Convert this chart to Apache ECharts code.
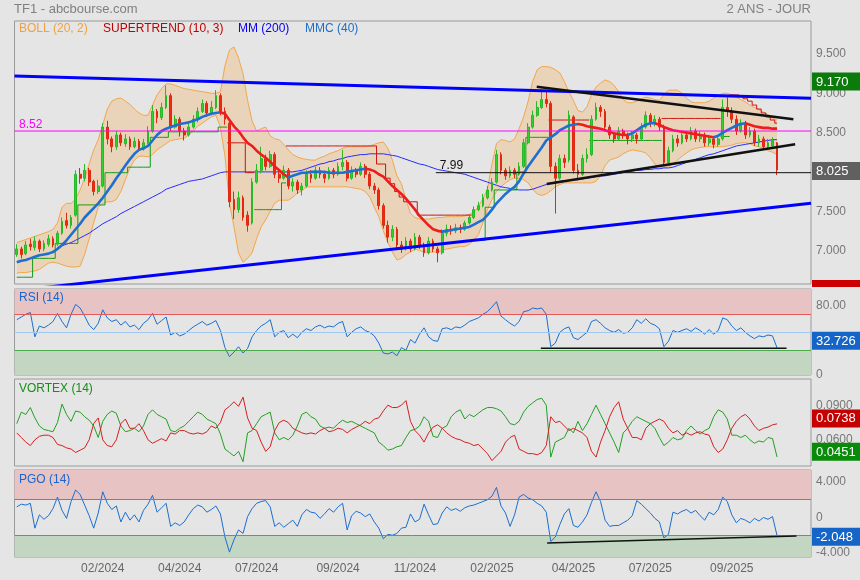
<!DOCTYPE html>
<html><head><meta charset="utf-8">
<script src="https://cdn.jsdelivr.net/npm/echarts@6.0.0/dist/echarts.min.js"></script>
<style>html,body{margin:0;padding:0;background:#e5e5e5;}#chart{width:860px;height:580px;}</style>
</head><body><div id="chart"></div>
<script>
// ---------- DATA ----------
const XLAB = ['02/2024','04/2024','07/2024','09/2024','11/2024','02/2025','04/2025','07/2025','09/2025'];
const XLAB_IDX = [19,36,53,71,88,105,123,140,158];

// [open, close, low, high]
const OHLC = [
[6.95,7.02,6.92,7.08],[7.02,6.95,6.90,7.05],[6.96,7.07,6.94,7.12],[7.08,7.05,7.00,7.15],[7.04,7.12,7.00,7.18],
[7.12,7.02,6.98,7.14],[7.02,7.09,6.99,7.13],[7.08,7.15,7.05,7.20],[7.15,7.07,7.04,7.18],[7.08,7.22,7.06,7.25],
[7.22,7.37,7.20,7.42],[7.38,7.32,7.28,7.48],[7.32,7.42,7.28,7.45],[7.45,7.97,7.43,8.02],[7.97,7.92,7.85,8.05],
[7.92,8.02,7.88,8.10],[8.02,7.87,7.82,8.05],[7.88,7.75,7.70,7.90],[7.75,7.82,7.72,7.90],[7.82,8.57,7.80,8.62],
[8.57,8.42,8.35,8.65],[8.42,8.32,8.25,8.45],[8.32,8.47,8.28,8.52],[8.47,8.37,8.33,8.50],[8.36,8.42,8.32,8.48],
[8.42,8.32,8.28,8.45],[8.32,8.39,8.30,8.44],[8.39,8.29,8.26,8.42],[8.29,8.37,8.27,8.42],[8.37,8.52,8.35,8.58],
[8.52,8.77,8.50,8.85],[8.77,8.69,8.62,8.80],[8.69,8.82,8.66,8.88],[8.82,8.97,8.80,9.10],[8.97,8.57,8.52,9.00],
[8.57,8.67,8.55,8.72],[8.67,8.52,8.45,8.70],[8.52,8.47,8.40,8.56],[8.47,8.57,8.45,8.62],[8.57,8.67,8.55,8.72],
[8.67,8.77,8.63,8.82],[8.77,8.87,8.75,8.92],[8.87,8.75,8.70,8.90],[8.75,8.82,8.72,8.90],[8.82,8.97,8.80,9.04],
[8.97,8.77,8.72,9.00],[8.77,8.67,8.60,8.82],[8.62,7.62,7.55,8.65],[7.65,7.52,7.40,7.75],[7.52,7.67,7.48,7.75],
[7.67,7.42,7.38,7.70],[7.45,7.32,7.24,7.50],[7.35,7.87,7.33,7.92],[7.87,8.02,7.85,8.10],[8.02,8.17,7.98,8.32],
[8.17,8.07,8.02,8.22],[8.07,8.22,8.05,8.27],[8.22,7.97,7.92,8.25],[7.97,7.92,7.86,8.02],[7.92,8.02,7.90,8.08],
[8.02,7.82,7.78,8.05],[7.82,7.87,7.75,7.92],[7.87,7.77,7.72,7.90],[7.77,7.82,7.70,7.86],[7.82,7.97,7.80,8.02],
[7.97,7.92,7.86,8.02],[7.92,8.02,7.90,8.07],[8.02,7.97,7.92,8.06],[7.97,7.92,7.86,8.00],[7.92,8.02,7.90,8.06],
[8.02,7.97,7.92,8.05],[7.97,8.07,7.95,8.12],[8.07,8.12,8.02,8.28],[8.12,7.92,7.88,8.15],[7.92,8.02,7.90,8.07],
[8.02,7.97,7.93,8.05],[7.97,8.07,7.95,8.12],[8.07,7.97,7.92,8.10],[7.97,7.82,7.78,8.00],[7.82,7.77,7.72,7.86],
[7.77,7.57,7.52,7.80],[7.57,7.32,7.28,7.60],[7.32,7.17,7.10,7.38],[7.17,7.27,7.12,7.32],[7.27,7.07,7.02,7.30],
[7.07,7.02,6.97,7.12],[7.02,7.12,7.00,7.17],[7.12,7.02,6.98,7.15],[7.02,7.17,7.00,7.22],[7.17,7.07,7.02,7.20],
[7.07,6.97,6.92,7.10],[6.97,7.12,6.95,7.17],[7.12,7.02,6.98,7.15],[7.02,6.97,6.85,7.05],[6.97,7.22,6.95,7.27],
[7.22,7.27,7.18,7.33],[7.27,7.25,7.20,7.32],[7.25,7.29,7.22,7.34],[7.29,7.27,7.22,7.33],[7.27,7.35,7.25,7.38],
[7.35,7.42,7.33,7.46],[7.42,7.52,7.40,7.56],[7.52,7.57,7.50,7.62],[7.57,7.67,7.55,7.72],[7.67,7.77,7.65,7.82],
[7.77,7.87,7.75,7.92],[7.87,8.22,7.85,8.28],[8.22,8.02,7.97,8.25],[8.02,7.95,7.90,8.05],[7.95,8.02,7.92,8.07],
[8.02,7.97,7.92,8.05],[7.97,8.07,7.95,8.12],[8.07,8.37,8.05,8.42],[8.37,8.57,8.35,8.62],[8.57,8.72,8.55,8.78],
[8.72,8.82,8.70,8.90],[8.82,8.92,8.80,9.05],[8.92,8.87,8.82,9.02],[8.87,8.07,8.00,8.90],[8.07,7.92,7.47,8.12],
[7.92,8.17,7.90,8.22],[8.17,8.12,8.05,8.22],[8.15,8.72,8.12,8.78],[8.70,8.02,7.98,8.72],[8.02,7.97,7.92,8.10],
[7.97,8.17,7.95,8.22],[8.17,8.22,8.12,8.30],[8.22,8.67,8.20,8.72],[8.67,8.82,8.65,8.88],[8.82,8.77,8.70,8.85],
[8.77,8.57,8.52,8.80],[8.57,8.47,8.42,8.60],[8.47,8.42,8.37,8.50],[8.42,8.52,8.40,8.57],[8.52,8.47,8.42,8.55],
[8.47,8.42,8.35,8.50],[8.42,8.47,8.38,8.52],[8.47,8.42,8.36,8.50],[8.42,8.57,8.40,8.62],[8.57,8.72,8.55,8.77],
[8.72,8.62,8.57,8.75],[8.62,8.67,8.58,8.72],[8.67,8.57,8.52,8.70],[8.57,8.12,8.08,8.60],[8.12,8.27,8.10,8.32],
[8.27,8.42,8.25,8.47],[8.42,8.37,8.32,8.47],[8.37,8.47,8.35,8.52],[8.47,8.42,8.38,8.52],[8.42,8.52,8.40,8.57],
[8.52,8.42,8.38,8.55],[8.42,8.47,8.38,8.52],[8.47,8.37,8.32,8.50],[8.37,8.42,8.33,8.47],[8.42,8.35,8.30,8.45],
[8.35,8.42,8.32,8.47],[8.42,8.82,8.40,8.92],[8.82,8.77,8.70,8.95],[8.77,8.67,8.62,8.82],[8.67,8.52,8.47,8.72],
[8.52,8.62,8.50,8.67],[8.62,8.47,8.42,8.65],[8.47,8.52,8.44,8.57],[8.52,8.37,8.33,8.55],[8.37,8.42,8.32,8.47],
[8.42,8.32,8.28,8.45],[8.32,8.37,8.28,8.42],[8.33,8.40,8.30,8.44],[8.37,8.025,7.96,8.38]
];

const BB_UP = [7.10,7.12,7.14,7.16,7.18,7.20,7.22,7.24,7.27,7.35,
 7.55,7.60,7.60,7.65,7.77,7.92,8.10,8.28,8.41,8.60,
 8.80,8.90,8.93,8.94,8.90,8.86,8.80,8.75,8.72,8.72,
 8.85,8.98,9.06,9.12,9.12,9.10,9.08,9.06,9.05,9.04,
 9.03,9.02,9.01,9.00,9.00,9.02,9.35,9.55,9.59,9.45,
 9.25,8.91,8.65,8.52,8.55,8.57,8.46,8.42,8.41,8.35,
 8.28,8.22,8.19,8.17,8.16,8.15,8.15,8.18,8.20,8.23,
 8.25,8.27,8.30,8.32,8.32,8.32,8.32,8.32,8.33,8.35,
 8.37,8.38,8.30,8.15,7.95,7.85,7.65,7.47,7.42,7.40,
 7.40,7.40,7.41,7.42,7.42,7.43,7.43,7.43,7.43,7.44,
 7.46,7.48,7.56,7.66,7.78,8.10,8.36,8.41,8.40,8.38,
 8.42,8.55,8.70,8.90,9.15,9.30,9.34,9.34,9.33,9.30,
 9.26,9.15,9.02,8.91,8.78,8.76,8.83,8.98,9.08,9.13,
 9.17,9.15,9.10,9.02,8.92,8.88,8.88,8.90,8.93,8.95,
 8.94,8.92,8.91,8.98,9.04,9.04,9.04,9.00,8.94,8.89,
 8.88,8.88,8.88,8.90,8.94,8.97,9.00,9.00,8.98,8.95,
 8.92,8.89,8.85,8.82,8.79,8.76,8.73,8.68,8.66];

const BB_LO = [6.71,6.72,6.72,6.73,6.74,6.76,6.80,6.84,6.85,6.84,
 6.82,6.80,6.79,6.79,6.80,6.95,7.15,7.35,7.55,7.60,
 7.62,7.62,7.65,7.75,7.90,8.05,8.15,8.20,8.20,8.19,
 8.22,8.28,8.32,8.36,8.40,8.41,8.42,8.43,8.47,8.52,
 8.58,8.62,8.66,8.70,8.72,8.57,8.20,7.60,7.30,6.97,
 6.85,6.90,6.97,7.15,7.30,7.39,7.50,7.60,7.64,7.64,
 7.64,7.68,7.73,7.76,7.81,7.81,7.81,7.81,7.81,7.81,
 7.81,7.81,7.81,7.81,7.80,7.79,7.78,7.75,7.68,7.55,
 7.43,7.25,7.10,6.98,6.88,6.90,6.95,6.98,7.02,7.00,
 6.98,6.98,6.98,6.98,7.00,7.02,7.03,7.04,7.05,7.05,
 7.08,7.13,7.20,7.35,7.52,7.65,7.75,7.81,7.86,7.90,
 7.92,7.92,7.90,7.86,7.78,7.72,7.70,7.72,7.76,7.81,
 7.84,7.86,7.86,7.86,7.86,7.86,7.86,7.86,7.88,7.95,
 8.08,8.15,8.17,8.19,8.23,8.26,8.28,8.27,8.26,8.24,
 8.18,8.10,8.06,8.06,8.06,8.10,8.15,8.20,8.24,8.28,
 8.30,8.31,8.32,8.32,8.32,8.32,8.32,8.33,8.34,8.36,
 8.37,8.37,8.36,8.33,8.32,8.30,8.27,8.25,8.22];

const MMC40 = [6.85,6.87,6.88,6.90,6.92,6.94,6.95,6.96,6.98,7.02,
 7.07,7.13,7.20,7.27,7.34,7.42,7.48,7.54,7.60,7.67,
 7.75,7.83,7.92,8.00,8.08,8.16,8.23,8.28,8.30,8.33,
 8.40,8.47,8.52,8.55,8.57,8.59,8.61,8.62,8.63,8.65,
 8.67,8.70,8.72,8.74,8.75,8.76,8.74,8.66,8.58,8.52,
 8.44,8.37,8.33,8.27,8.22,8.18,8.13,8.07,8.02,7.97,
 7.93,7.95,7.97,7.99,7.99,8.00,8.00,8.00,8.00,7.99,
 7.99,7.99,7.99,8.00,8.01,8.02,8.03,8.04,8.03,8.01,
 7.97,7.94,7.88,7.82,7.77,7.72,7.66,7.59,7.52,7.44,
 7.38,7.32,7.27,7.25,7.24,7.25,7.26,7.27,7.28,7.29,
 7.30,7.33,7.36,7.39,7.45,7.52,7.60,7.66,7.72,7.77,
 7.81,7.88,7.98,8.07,8.15,8.23,8.31,8.40,8.44,8.48,
 8.53,8.56,8.59,8.60,8.61,8.60,8.58,8.57,8.56,8.55,
 8.53,8.51,8.49,8.48,8.47,8.47,8.49,8.53,8.57,8.60,
 8.62,8.62,8.60,8.57,8.55,8.53,8.52,8.51,8.50,8.49,
 8.48,8.47,8.46,8.45,8.44,8.46,8.50,8.53,8.56,8.59,
 8.61,8.62,8.60,8.58,8.57,8.56,8.56,8.55,8.55];
// indices where MMC(40) changes direction (starts rising)
const MMC_TURNS = [45,60,77,94,124,135,141,154,161];

const MM200 = [null,null,null,null,null,null,null,null,null,
 7.04,7.06,7.08,7.10,7.13,7.16,7.19,7.22,7.26,7.30,
 7.34,7.37,7.40,7.43,7.47,7.50,7.53,7.56,7.59,7.62,
 7.65,7.68,7.71,7.74,7.78,7.80,7.82,7.84,7.86,7.88,
 7.89,7.90,7.91,7.93,7.95,7.97,7.99,8.00,8.00,8.00,
 8.00,8.00,8.00,8.00,8.00,8.00,8.00,8.00,8.00,8.00,
 8.00,8.00,8.00,8.01,8.02,8.04,8.06,8.08,8.10,8.11,
 8.13,8.14,8.16,8.17,8.19,8.20,8.21,8.22,8.22,8.23,
 8.23,8.23,8.23,8.22,8.21,8.20,8.18,8.16,8.14,8.12,
 8.10,8.09,8.07,8.05,8.03,8.02,8.01,8.00,7.99,7.98,
 7.97,7.95,7.93,7.91,7.89,7.87,7.85,7.83,7.81,7.80,
 7.79,7.78,7.77,7.77,7.77,7.78,7.80,7.82,7.84,7.86,
 7.87,7.88,7.89,7.89,7.90,7.90,7.91,7.92,7.93,7.94,
 7.95,7.95,7.96,7.97,7.98,7.99,8.00,8.01,8.02,8.02,
 8.03,8.03,8.04,8.04,8.05,8.05,8.06,8.08,8.10,8.12,
 8.14,8.16,8.18,8.20,8.22,8.23,8.25,8.27,8.29,8.31,
 8.33,8.34,8.35,8.36,8.37,8.38,8.39,8.40,8.41,8.41];

// Supertrend step segments [fromIndex, toIndex, level]
const ST_GREEN_SEGS = [[0,3,6.66],[4,8,6.90],[9,13,7.09],[14,19,7.58],[20,24,7.99],[25,29,8.06],[30,33,8.44],[34,44,8.51],[45,46,8.57],
 [53,58,7.52],[59,59,7.86],[101,103,7.13],[104,105,7.55],[106,110,7.77],[111,112,8.00],[113,117,8.44],[127,142,8.40],[156,157,8.45]];
const ST_RED_SEGS = [[47,50,8.37],[51,52,7.99],[60,79,8.33],[80,81,8.10],[82,82,7.92],[83,83,7.85],[84,84,7.75],[85,85,7.68],[86,88,7.62],[89,100,7.45],
 [118,126,8.66],[143,155,8.68],[158,159,8.98],[160,160,8.96],[161,161,8.93],[162,162,8.90],[163,163,8.85],[164,164,8.80],[165,165,8.75],[166,166,8.70],[167,167,8.66],[168,168,8.62]];

const RSI = [64,67,70,72,45,57,55,58,62,71,
 62,55,70,81,77,68,58,53,60,75,
 66,62,64,58,62,56,58,53,60,64,
 71,59,63,67,47,50,46,48,52,56,
 59,62,58,60,63,52,33,23,28,34,
 27,32,45,52,57,60,64,45,50,52,
 44,48,44,50,54,52,56,58,55,57,
 56,60,62,45,50,54,56,52,50,46,
 38,27,26,28,24,33,30,42,38,48,
 55,45,41,40,54,55,53,56,55,58,
 62,64,66,70,73,78,84,68,64,60,
 57,62,73,74,77,76,77,70,34,38,
 50,54,56,44,42,46,50,62,64,60,
 55,52,50,53,49,50,55,64,60,65,
 60,58,54,34,40,52,50,52,54,51,
 55,52,48,53,48,52,66,64,57,52,
 55,50,46,43,46,45,47,46,32.726];

const VI_PLUS = [0.074,0.084,0.082,0.088,0.079,0.072,0.069,0.068,0.067,0.075,
 0.091,0.082,0.076,0.085,0.084,0.080,0.077,0.072,0.062,0.076,
 0.082,0.085,0.083,0.072,0.067,0.068,0.070,0.067,0.072,0.082,
 0.086,0.082,0.080,0.078,0.068,0.067,0.070,0.072,0.076,0.080,
 0.084,0.082,0.078,0.076,0.074,0.065,0.052,0.049,0.046,0.050,
 0.041,0.066,0.068,0.074,0.080,0.082,0.084,0.066,0.060,0.062,
 0.060,0.064,0.072,0.082,0.084,0.080,0.078,0.072,0.070,0.071,
 0.070,0.074,0.077,0.075,0.076,0.074,0.072,0.070,0.068,0.066,
 0.058,0.055,0.051,0.052,0.054,0.055,0.062,0.068,0.069,0.072,
 0.080,0.076,0.063,0.062,0.070,0.072,0.080,0.084,0.086,0.078,
 0.082,0.080,0.083,0.086,0.088,0.088,0.087,0.085,0.080,0.074,
 0.073,0.076,0.084,0.089,0.092,0.095,0.096,0.090,0.045,0.058,
 0.060,0.062,0.070,0.066,0.076,0.068,0.074,0.082,0.090,0.082,
 0.074,0.066,0.058,0.049,0.066,0.070,0.076,0.080,0.078,0.076,
 0.074,0.070,0.062,0.055,0.058,0.062,0.060,0.061,0.068,0.072,
 0.068,0.065,0.068,0.070,0.080,0.086,0.084,0.078,0.064,0.064,
 0.062,0.064,0.060,0.057,0.059,0.058,0.062,0.061,0.0451];

const VI_MINUS = [0.066,0.062,0.058,0.055,0.060,0.063,0.064,0.064,0.062,0.056,
 0.055,0.053,0.052,0.049,0.051,0.053,0.060,0.074,0.079,0.060,
 0.055,0.054,0.060,0.074,0.078,0.070,0.070,0.074,0.068,0.060,
 0.057,0.059,0.061,0.059,0.066,0.065,0.068,0.068,0.066,0.065,
 0.066,0.065,0.067,0.072,0.070,0.075,0.086,0.089,0.093,0.089,
 0.097,0.079,0.070,0.068,0.058,0.050,0.054,0.068,0.075,0.077,
 0.075,0.070,0.068,0.066,0.065,0.066,0.065,0.068,0.070,0.067,
 0.068,0.070,0.069,0.066,0.069,0.071,0.073,0.076,0.074,0.078,
 0.079,0.085,0.090,0.088,0.088,0.090,0.094,0.076,0.068,0.064,
 0.058,0.066,0.071,0.073,0.070,0.066,0.063,0.061,0.060,0.058,
 0.057,0.055,0.056,0.052,0.048,0.042,0.046,0.050,0.058,0.062,
 0.064,0.052,0.050,0.048,0.048,0.047,0.049,0.055,0.080,0.075,
 0.076,0.072,0.068,0.070,0.068,0.066,0.062,0.050,0.045,0.058,
 0.068,0.080,0.088,0.093,0.078,0.070,0.062,0.062,0.060,0.070,
 0.074,0.076,0.078,0.076,0.070,0.066,0.068,0.064,0.066,0.064,
 0.066,0.067,0.065,0.064,0.054,0.049,0.052,0.060,0.070,0.076,
 0.080,0.082,0.078,0.072,0.068,0.070,0.071,0.073,0.0738];

const PGO = [1.2,1.5,1.4,1.6,-1.2,0.3,-0.2,0.2,1.0,2.3,
 0.8,-0.1,1.8,3.1,2.6,1.4,0.2,-1.2,0.5,2.9,
 1.6,0.9,1.3,-0.5,0.6,-0.3,0.3,-0.5,0.8,1.5,
 2.5,0.6,1.1,1.6,-1.0,-0.6,-0.9,-0.5,0.3,1.0,
 1.4,1.2,0.6,0.9,1.3,0.4,-2.2,-3.9,-2.5,-1.4,
 -1.8,0.1,1.0,1.6,1.8,1.9,1.2,-1.0,-0.6,-1.1,
 -0.7,-0.3,-1.0,0.3,0.9,0.6,0.5,-0.1,0.4,1.0,
 0.6,1.2,1.6,-1.4,0.2,0.7,0.5,0.1,0.4,-0.5,
 -1.2,-2.4,-1.9,-2.0,-1.8,-1.2,-1.1,0.4,-0.5,-0.2,
 1.5,0.3,-0.8,-0.7,0.5,1.2,0.8,1.0,0.7,1.1,
 1.3,1.4,1.6,1.8,2.0,2.4,3.4,1.3,0.5,-1.0,
 0.3,2.3,2.6,2.2,2.0,1.6,1.3,0.6,-2.7,-2.2,
 -0.8,0.4,1.0,-0.9,-1.1,-0.5,0.3,1.7,2.9,1.8,
 -0.3,-1.0,-0.9,-0.9,-0.6,-0.3,0.2,1.9,1.5,1.0,
 0.5,-0.1,-0.5,-2.3,-1.9,0.6,0.4,0.7,0.9,0.5,
 0.8,0.2,-0.3,0.6,0.3,0.9,2.3,1.8,0.3,-0.6,
 -0.1,-0.3,-0.6,-0.1,-0.4,0.0,-0.2,0.1,-2.048];

// drawn annotation lines: [barIndex, value]
const TL_BLUE_TOP = [[-0.5, 9.22], [175.5, 8.936]];
const TL_BLUE_BOT = [[-0.5, 6.4885], [175.5, 7.60]];
const TL_BLACK_DOWN = [[114.9, 9.084], [171.6, 8.669]];
const TL_BLACK_UP = [[117.1, 7.846], [172.0, 8.351]];
const LEVEL_799 = [[92.6, 7.99], [175.5, 7.99]];
const LEVEL_852 = [[-0.5, 8.52], [175.5, 8.52]];
const RSI_TL = [[115.8, 32.2], [170.1, 32.2]];
const PGO_TL = [[117.2, -2.87], [172.3, -2.08]];

// right-side value tags
const TAG_MAIN_TOP = 9.170, TAG_MAIN_LAST = 8.025, TAG_RSI = 32.726, TAG_VIM = 0.0738, TAG_VIP = 0.0451, TAG_PGO = -2.048;

// ---------- CHART ----------
const FONT = '"Liberation Sans", Arial, sans-serif';
const M = 176;
const N = OHLC.length;
const cats = [];
for (let i = 0; i < M; i++) { const k = XLAB_IDX.indexOf(i); cats.push(k >= 0 ? XLAB[k] : ''); }
function expandSegs(list) { const a = []; for (let i = 0; i < N; i++) a.push(null); list.forEach(s => { for (let i = s[0]; i <= s[1]; i++) a[i] = s[2]; }); return a; }
const bbDiff = BB_UP.map((u, i) => +(u - BB_LO[i]).toFixed(4));

const BLUE_T = '#1f6fd0', RED_T = '#ee1c1c';
const mmcPieces = [];
let prev = null, up = true;
MMC_TURNS.concat([null]).forEach(t => {
  const p = {color: up ? BLUE_T : RED_T};
  if (prev !== null) p.gt = prev;
  if (t !== null) p.lte = t;
  mmcPieces.push(p); prev = t; up = !up;
});

const grids = [
  {left: 14.5, width: 796.5, top: 21, height: 263},
  {left: 14.5, width: 796.5, top: 289, height: 86},
  {left: 14.5, width: 796.5, top: 379, height: 87},
  {left: 14.5, width: 796.5, top: 470, height: 87}
].map(g => Object.assign(g, {show: true, borderColor: '#9a9a9a', borderWidth: 1, backgroundColor: 'transparent'}));

const xAxes = [0,1,2,3].map(g => ({
  type: 'category', gridIndex: g, data: cats, boundaryGap: true,
  axisLine: {show: false}, axisTick: {show: false}, splitLine: {show: false},
  axisLabel: {show: g === 3, interval: (i, v) => v !== '', color: '#666', fontSize: 12, fontFamily: FONT, margin: 6}
})).concat([0,1,2,3].map(g => ({type: 'value', gridIndex: g, min: -0.5, max: M - 0.5, show: false})));

function yAx(g, min, max, vals, fmt) {
  return {type: 'value', gridIndex: g, position: 'right', min: min, max: max,
    splitLine: {show: false}, axisLine: {show: false}, axisTick: {show: false},
    axisLabel: {customValues: vals, formatter: fmt, color: '#777', fontSize: 12, fontFamily: FONT, margin: 5, padding: [0,0,5,0]}};
}
const yAxes = [
  yAx(0, 6.5738, 9.9198, [7, 7.5, 8, 8.5, 9, 9.5], v => v.toFixed(3)),
  yAx(1, 2.6, 98.1, [80], v => v.toFixed(2)),
  yAx(2, 0.03728, 0.11273, [0.06, 0.09], v => v.toFixed(4)),
  yAx(3, -4.451, 5.352, [-4, 0, 4], v => Math.abs(v) < 1e-9 ? '0' : v.toFixed(3))
];

const lineBase = {type: 'line', symbol: 'none', animation: false};
function tl(data, color, width, xi, yi, z) {
  return Object.assign({}, lineBase, {data: data, xAxisIndex: xi, yAxisIndex: yi, z: z || 6, lineStyle: {color: color, width: width}, silent: true});
}

const series = [
  Object.assign({}, lineBase, {name: 'bblo', data: BB_LO, stack: 'bb', xAxisIndex: 0, yAxisIndex: 0, z: 1, lineStyle: {color: '#f2a64c', width: 1}}),
  Object.assign({}, lineBase, {name: 'bbup', data: bbDiff, stack: 'bb', xAxisIndex: 0, yAxisIndex: 0, z: 1, lineStyle: {color: '#f2a64c', width: 1}, areaStyle: {color: '#e9d4ba', opacity: 1}}),
  Object.assign({}, lineBase, {name: 'mm200', data: MM200, xAxisIndex: 0, yAxisIndex: 0, z: 3, lineStyle: {color: '#2a2aff', width: 1}}),
  Object.assign({}, lineBase, {name: 'stg', data: expandSegs(ST_GREEN_SEGS), step: 'middle', xAxisIndex: 0, yAxisIndex: 0, z: 3, lineStyle: {color: '#139a13', width: 1}}),
  Object.assign({}, lineBase, {name: 'str', data: expandSegs(ST_RED_SEGS), step: 'middle', xAxisIndex: 0, yAxisIndex: 0, z: 3, lineStyle: {color: '#cc1010', width: 1}}),
  {type: 'candlestick', name: 'TF1', data: OHLC, xAxisIndex: 0, yAxisIndex: 0, z: 4, barMaxWidth: 3, animation: false,
    itemStyle: {color: '#2fd02f', color0: '#f02a10', borderColor: '#28b828', borderColor0: '#dd2a10', borderWidth: 1}},
  Object.assign({}, lineBase, {name: 'mmc40', data: MMC40, xAxisIndex: 0, yAxisIndex: 0, z: 5, lineStyle: {width: 2.6}}),
  tl(TL_BLUE_TOP, '#0000ff', 3, 4, 0),
  tl(TL_BLUE_BOT, '#0000ff', 3, 4, 0),
  tl(TL_BLACK_DOWN, '#111111', 2.5, 4, 0),
  tl(TL_BLACK_UP, '#111111', 2.5, 4, 0),
  tl(LEVEL_799, '#111111', 1, 4, 0),
  tl(LEVEL_852, '#ff00ff', 1, 4, 0),
  Object.assign({}, lineBase, {name: 'rsi', data: RSI, xAxisIndex: 1, yAxisIndex: 1, z: 4, lineStyle: {color: '#1a6fd0', width: 1},
    markArea: {silent: true, data: [
      [{yAxis: 70, itemStyle: {color: '#e8c3c3'}}, {yAxis: 98.1}],
      [{yAxis: 2.6, itemStyle: {color: '#c3d6c1'}}, {yAxis: 30}]]},
    markLine: {silent: true, symbol: 'none', label: {show: false}, animation: false, data: [
      {yAxis: 70, lineStyle: {color: '#e35a5a', width: 1, type: 'solid'}},
      {yAxis: 50, lineStyle: {color: '#a0c8f0', width: 1, type: 'solid'}},
      {yAxis: 30, lineStyle: {color: '#4caa4c', width: 1, type: 'solid'}}]}}),
  tl(RSI_TL, '#111111', 1.5, 5, 1),
  Object.assign({}, lineBase, {name: 'vip', data: VI_PLUS, xAxisIndex: 2, yAxisIndex: 2, z: 4, lineStyle: {color: '#22a022', width: 1}}),
  Object.assign({}, lineBase, {name: 'vim', data: VI_MINUS, xAxisIndex: 2, yAxisIndex: 2, z: 4, lineStyle: {color: '#d42020', width: 1}}),
  Object.assign({}, lineBase, {name: 'pgo', data: PGO, xAxisIndex: 3, yAxisIndex: 3, z: 4, lineStyle: {color: '#1a6fd0', width: 1},
    markArea: {silent: true, data: [
      [{yAxis: 2, itemStyle: {color: '#e8c3c3'}}, {yAxis: 5.352}],
      [{yAxis: -4.451, itemStyle: {color: '#c3d6c1'}}, {yAxis: -2}]]},
    markLine: {silent: true, symbol: 'none', label: {show: false}, animation: false, data: [
      {yAxis: 2, lineStyle: {color: '#f05050', width: 1, type: 'solid'}},
      {yAxis: -2, lineStyle: {color: '#4caa4c', width: 1, type: 'solid'}}]}}),
  tl(PGO_TL, '#111111', 1.5, 7, 3)
];
const mmcIndex = series.findIndex(s => s.name === 'mmc40');

const chart = echarts.init(document.getElementById('chart'));
chart.setOption({
  animation: false,
  backgroundColor: '#e5e5e5',
  grid: grids,
  xAxis: xAxes,
  yAxis: yAxes,
  visualMap: [{type: 'piecewise', show: false, dimension: 0, seriesIndex: mmcIndex, pieces: mmcPieces}],
  series: series
});

// ---------- text & tags ----------
function txt(x, y, text, color, align, size) {
  return {type: 'text', z: 200, silent: true, style: {x: x, y: y, text: text, fill: color, font: (size || 12) + 'px ' + FONT, align: align || 'left', verticalAlign: 'middle'}};
}
function tag(yAxisIndex, value, text, color, dy) {
  const y = chart.convertToPixel({yAxisIndex: yAxisIndex}, value) + (dy || 0);
  return [
    {type: 'rect', z: 190, silent: true, shape: {x: 812, y: y - 9, width: 48, height: 18}, style: {fill: color}},
    txt(816, y + 0.5, text, '#ffffff', 'left', 13)
  ];
}
const p799 = chart.convertToPixel({xAxisIndex: 4, yAxisIndex: 0}, LEVEL_799[0]);
const p852 = chart.convertToPixel({xAxisIndex: 4, yAxisIndex: 0}, LEVEL_852[0]);
const g = [
  txt(14, 9, 'TF1 - abcbourse.com', '#808080', 'left', 13),
  txt(811, 9, '2 ANS - JOUR', '#808080', 'right', 13),
  txt(19, 29, 'BOLL (20, 2)', '#f0a040'),
  txt(103, 29, 'SUPERTREND (10, 3)', '#c00000'),
  txt(238, 29, 'MM (200)', '#0000ee'),
  txt(305, 29, 'MMC (40)', '#1a6fc8'),
  txt(19, 297.5, 'RSI (14)', '#1a66cc'),
  txt(19, 388.5, 'VORTEX (14)', '#159015'),
  txt(19, 479.5, 'PGO (14)', '#1a66cc'),
  txt(p799[0] + 4, p799[1] - 7, '7.99', '#111111'),
  txt(19, p852[1] - 6.5, '8.52', '#ff00ff'),
  txt(816, 375, '0', '#777777'),
  {type: 'rect', z: 190, silent: true, shape: {x: 812, y: 280, width: 48, height: 7}, style: {fill: '#cc0000'}}
].concat(
  tag(0, TAG_MAIN_TOP, '9.170', '#0b7b0b', 1.5),
  tag(0, TAG_MAIN_LAST, '8.025', '#606060', 1),
  tag(1, TAG_RSI, '32.726', '#1565c8', -7),
  tag(2, TAG_VIM, '0.0738', '#c40000', -5.5),
  tag(2, TAG_VIP, '0.0451', '#0a8a0a', -5.3),
  tag(3, TAG_PGO, '-2.048', '#1565c8', 1)
);
chart.setOption({graphic: g});
</script>
</body></html>
